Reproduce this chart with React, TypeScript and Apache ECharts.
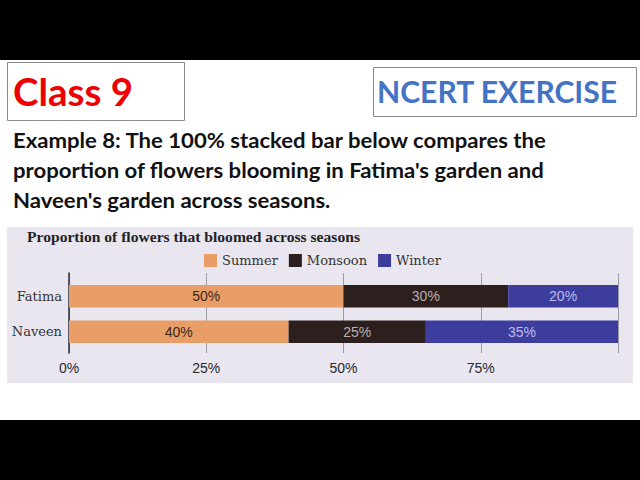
import React, { useEffect, useRef } from "react";
import * as echarts from "echarts";

const categories = ["Fatima", "Naveen"];
const seriesNames = ["Summer", "Monsoon", "Winter"];
const summerValues = [50, 40];
const monsoonValues = [30, 25];
const winterValues = [20, 35];
const xTicks = [0, 25, 50, 75, 100];

const chartTitle = "Proportion of flowers that bloomed across seasons";
const exampleLines = [
  "Example 8: The 100% stacked bar below compares the",
  "proportion of flowers blooming in Fatima's garden and",
  "Naveen's garden across seasons.",
];

const colors = ["#E99E68", "#2C1F1D", "#3D3D9E"];
const labelColors = ["#3b2618", "#b8b0b2", "#bcbcee"];

function measure(text: string, font: string): number {
  const c = document.createElement("canvas");
  const ctx = c.getContext("2d");
  if (!ctx) return text.length * 10;
  ctx.font = font;
  return ctx.measureText(text).width;
}

function fitText(text: string, x: number, y: number, targetW: number, font: string, fill: string, scale?: number) {
  const w = measure(text, font);
  const s = scale ?? targetW / w;
  return {
    type: "text",
    x,
    y,
    scaleX: s,
    z: 10,
    style: { text, x: 0, y: 0, font, fill, verticalAlign: "middle", align: "left" },
  };
}

export default function App() {
  const ref = useRef<HTMLDivElement>(null);
  useEffect(() => {
    if (!ref.current) return;
    const chart = echarts.init(ref.current, undefined, { renderer: "svg" });

    const exFont = 'bold 20px Lato';
    const exScale = 535 / measure(exampleLines[0], exFont);

    const graphic: any[] = [
      { type: "rect", shape: { x: 0, y: 0, width: 640, height: 60 }, style: { fill: "#000" }, z: 0 },
      { type: "rect", shape: { x: 0, y: 420, width: 640, height: 60 }, style: { fill: "#000" }, z: 0 },
      { type: "rect", shape: { x: 7.5, y: 62.5, width: 177, height: 58 }, style: { fill: "#fff", stroke: "#8a8a8a", lineWidth: 1 }, z: 1 },
      { type: "rect", shape: { x: 373.5, y: 67.5, width: 263, height: 49 }, style: { fill: "#fff", stroke: "#8a8a8a", lineWidth: 1 }, z: 1 },
      { type: "rect", shape: { x: 7, y: 227, width: 626, height: 156 }, style: { fill: "#E9E6F0" }, z: -10, silent: true },
      fitText("Class 9", 13, 91, 120, 'bold 39px Lato', "#EE0000"),
      fitText("NCERT EXERCISE", 377, 91, 241, 'bold 31px Lato', "#4472C4"),
      fitText(exampleLines[0], 13, 140, 535, exFont, "#111", exScale),
      fitText(exampleLines[1], 13, 170, 542, exFont, "#111", exScale),
      fitText(exampleLines[2], 13, 199.5, 320, exFont, "#111", exScale),
      fitText(chartTitle, 27, 237, 333, 'bold 15px "Liberation Serif"', "#222"),
    ];

    const valueSets = [summerValues, monsoonValues, winterValues];
    const series: any[] = seriesNames.map((name, i) => ({
      name,
      type: "bar",
      stack: "total",
      xAxisIndex: 0,
      yAxisIndex: 0,
      barWidth: 22.5,
      data: valueSets[i],
      itemStyle: { color: colors[i] },
      label: {
        show: true,
        position: "inside",
        formatter: "{c}%",
        color: labelColors[i],
        fontFamily: "Liberation Sans",
        fontSize: 14,
      },
    }));

    chart.setOption({
      animation: false,
      backgroundColor: "#ffffff",
      graphic,
      legend: {
        data: seriesNames,
        left: 204,
        top: 254,
        itemWidth: 13,
        itemHeight: 13,
        itemGap: 11,
        icon: "rect",
        padding: 0,
        textStyle: { fontFamily: "DejaVu Serif", fontSize: 13, color: "#333" },
      },
      grid: [
        { left: 69, width: 549, top: 278.5, height: 71 },
        { left: 69, width: 549, top: 273, height: 80 },
      ],
      xAxis: [
        { type: "value", gridIndex: 0, min: 0, max: 100, show: false },
        {
          type: "value",
          gridIndex: 1,
          min: xTicks[0],
          max: xTicks[xTicks.length - 1],
          interval: 25,
          axisLine: { show: false },
          axisTick: { show: false },
          splitLine: { show: true, lineStyle: { color: "#9e9ba8", width: 1 } },
          axisLabel: {
            formatter: "{value}%",
            showMaxLabel: false,
            margin: 8,
            color: "#2a2a2a",
            fontFamily: "Liberation Sans",
            fontSize: 14,
          },
        },
      ],
      yAxis: [
        {
          type: "category",
          gridIndex: 0,
          data: categories,
          inverse: true,
          axisLine: { show: false },
          axisTick: { show: false },
          axisLabel: { margin: 7, color: "#333", fontFamily: "DejaVu Serif", fontSize: 13 },
        },
        {
          type: "value",
          gridIndex: 1,
          min: 0,
          max: 1,
          axisLine: { show: true, lineStyle: { color: "#2a2a3a", width: 1.5 } },
          axisTick: { show: false },
          axisLabel: { show: false },
          splitLine: { show: false },
        },
      ],
      series,
    });

    return () => chart.dispose();
  }, []);

  return (
    <div
      ref={ref}
      style={{ position: "fixed", left: 0, top: 0, width: 640, height: 480 }}
    />
  );
}
